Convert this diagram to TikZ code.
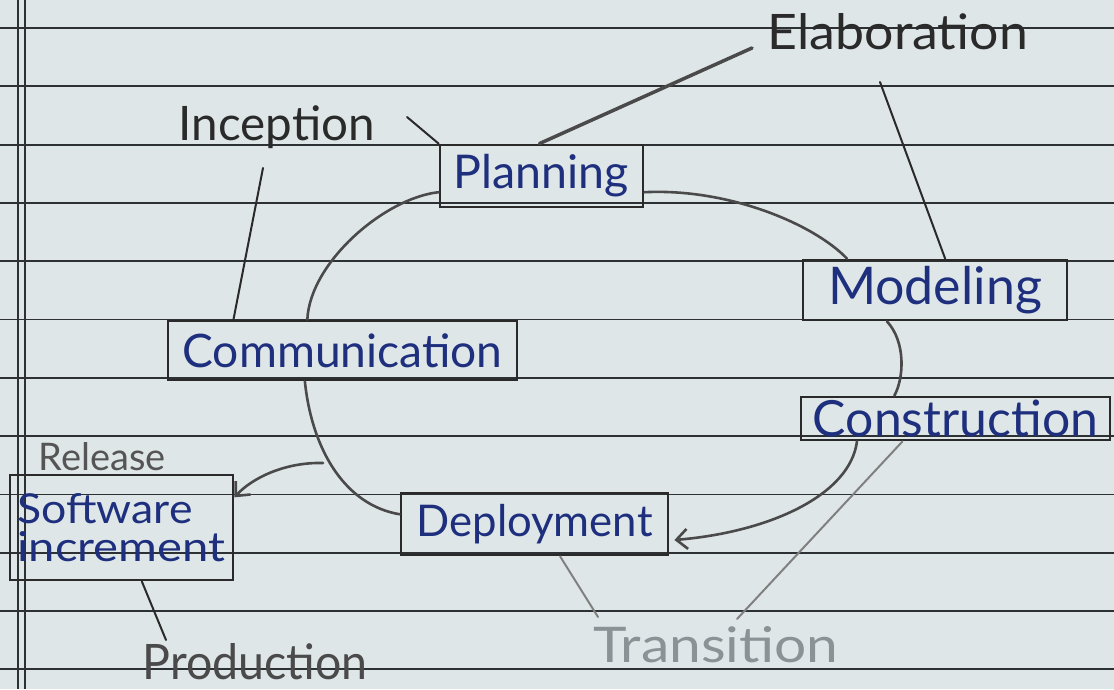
\documentclass[tikz,border=0pt]{standalone}
\usepackage{fontspec}
\setmainfont{Lato}
\usepackage{graphicx}
\usetikzlibrary{calc,arrows.meta}
\definecolor{paper}{HTML}{DFE6E8}
\definecolor{rulecol}{HTML}{2E3133}
\definecolor{ink}{HTML}{1E2F7E}
\definecolor{pencil}{HTML}{2A2A2A}
\definecolor{faint}{HTML}{8A9296}
\newcommand{\fw}[2]{\resizebox{#1pt}{!}{#2}}
\newcommand{\fwh}[3]{\resizebox{#1pt}{#2pt}{#3}}
\begin{document}
\begin{tikzpicture}[x=1pt,y=-1pt,
  stagebox/.style={draw=pencil, line width=2.8pt, inner sep=0pt, text=ink},
  lbl/.style={inner sep=0pt, text=pencil},
  flow/.style={draw=pencil!85, line width=2.6pt, line cap=round},
  tick/.style={draw=pencil, line width=2pt, line cap=round},
  arr/.style={-{Straight Barb[length=11pt,width=20pt]}}]
 \fill[paper] (0,0) rectangle (1114,689);
 \useasboundingbox (0,0) rectangle (1114,689);
 \foreach \k in {0,...,11} {\draw[rulecol, line width=1.8pt] (0,{28+58.3*\k}) -- (1114,{28+58.3*\k});}
 \draw[rulecol, line width=1.8pt] (18,0) -- (18,689) (25,0) -- (25,689);

 \node[stagebox, minimum width=203pt, minimum height=62pt] (plan) at (541.5,176) {\fw{175}{Planning}};
 \node[stagebox, minimum width=264pt, minimum height=60pt] (model) at (935,290) {\fw{214}{Modeling}};
 \node[stagebox, minimum width=309pt, minimum height=43pt] (constr) at (955.5,418.5) {\fw{285}{Construction}};
 \node[stagebox, minimum width=267pt, minimum height=62pt] (deploy) at (534.5,524) {\fw{236}{Deployment}};
 \node[stagebox, minimum width=349pt, minimum height=59pt] (comm) at (342.5,350.5) {\fw{320}{Communication}};
 \node[stagebox, minimum width=223pt, minimum height=105pt, align=left, text width=208pt] (soft) at (121.5,527.5)
   {\fwh{175}{30}{Software}\\[6pt]\fwh{208}{30}{increment}};

 \node[lbl] (inc) at (277,127) {\fw{196}{Inception}};
 \node[lbl] (elab) at (898,32) {\fwh{260}{36}{Elaboration}};
 \node[lbl, text=pencil!80] (rel) at (102,457) {\fw{127}{Release}};
 \node[lbl, text=pencil!85] (prod) at (255,662) {\fwh{225}{36}{Production}};
 \node[lbl, text=faint] (trans) at (716,645) {\fwh{245}{36}{Transition}};

 \draw[flow] ($(plan.south west)!0.25!(plan.north west)$) .. controls (385,198) and (310,262) .. ($(comm.north west)!0.4!(comm.north east)$);
 \draw[flow] ($(plan.south east)!0.25!(plan.north east)$) .. controls (730,188) and (815,225) .. ($(model.north west)!0.17!(model.north east)$);
 \draw[flow] ($(model.south west)!0.32!(model.south east)$) .. controls (906,342) and (904,378) .. ($(constr.north west)!0.304!(constr.north east)$);
 \draw[flow,arr] ($(constr.south west)!0.184!(constr.south east)$) .. controls (850,495) and (770,532) .. ($(deploy.east)+(5,16)$);
 \draw[flow] ($(comm.south west)!0.393!(comm.south east)$) .. controls (312,450) and (345,505) .. ($(deploy.north west)!0.35!(deploy.south west)$);
 \coordinate (branch) at (323,463);
 \draw[flow,arr] (branch) .. controls (285,462) and (252,478) .. ($(soft.north east)!0.22!(soft.south east)$);

 \coordinate (incA) at (263,168);
 \draw[tick] (incA) -- ($(comm.north west)!0.19!(comm.north east)$);
 \coordinate (incB) at (407,117);
 \draw[tick] (incB) -- (plan.north west);
 \coordinate (elabA) at (752,48);
 \draw[tick, line width=3.5pt, draw=pencil!85] (elabA) -- ($(plan.north west)!0.49!(plan.north east)$);
 \coordinate (elabB) at (880,82);
 \draw[tick] (elabB) -- ($(model.north west)!0.538!(model.north east)$);
 \coordinate (prodA) at (166,640);
 \draw[tick] ($(soft.south west)!0.59!(soft.south east)$) -- (prodA);
 \coordinate (transA) at (598,617);
 \draw[tick, draw=gray] ($(deploy.south west)!0.595!(deploy.south east)$) -- (transA);
 \coordinate (transB) at (737,619);
 \draw[tick, draw=gray] ($(constr.south west)!0.33!(constr.south east)$) -- (transB);
\end{tikzpicture}
\end{document}
